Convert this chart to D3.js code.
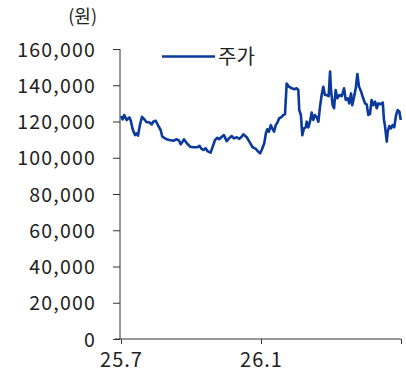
<!DOCTYPE html>
<html>
<head>
<meta charset="utf-8">
<script src="https://cdn.jsdelivr.net/npm/d3@7"></script>
<style>
  body { margin: 0; background: #fff; }
  svg text { font-family: "Noto Sans CJK KR", "Noto Sans", sans-serif; fill: #222; }
</style>
</head>
<body>
<svg id="chart"></svg>
<script>
// 월 오프셋 (0 = 25.7, 6 = 26.1, 12 = 26.7)
const months = [
  0.00, 0.07, 0.14, 0.24, 0.36, 0.42, 0.50, 0.60, 0.67, 0.73, 0.81, 0.90, 1.00, 1.10, 1.21,
  1.32, 1.38, 1.49, 1.60, 1.70, 1.77, 1.96, 2.07, 2.24, 2.39, 2.49, 2.56, 2.64, 2.70, 2.82,
  2.96, 3.10, 3.27, 3.36, 3.43, 3.53, 3.63, 3.70, 3.84, 3.93, 4.03, 4.13, 4.21, 4.32, 4.41,
  4.53, 4.63, 4.74, 4.84, 4.96, 5.07, 5.17, 5.24, 5.39, 5.50, 5.64, 5.79, 5.87, 5.96, 6.03,
  6.14, 6.21, 6.27, 6.34, 6.42, 6.48, 6.56, 6.63, 6.70, 6.78, 6.86, 6.96, 7.03, 7.10, 7.20,
  7.32, 7.43, 7.53, 7.60, 7.64, 7.71, 7.77, 7.84, 7.92, 7.96, 8.03, 8.10, 8.17, 8.24, 8.31,
  8.39, 8.46, 8.53, 8.60, 8.67, 8.74, 8.82, 8.90, 8.96, 9.00, 9.07, 9.13, 9.20, 9.27, 9.36,
  9.46, 9.56, 9.63, 9.72, 9.78, 9.86, 9.91, 9.99, 10.07, 10.13, 10.20, 10.29, 10.38, 10.46, 10.53,
  10.60, 10.67, 10.74, 10.81, 10.89, 10.96, 11.03, 11.13, 11.22, 11.27, 11.31, 11.39, 11.43, 11.50, 11.57,
  11.64, 11.71, 11.79, 11.86, 11.93, 11.99
];
// 주가 (원)
const prices = [
  123000, 121200, 123600, 120800, 122300, 120400, 115700, 112500, 113500, 112200, 118000, 122600, 121200, 119600, 119600,
  118400, 119900, 120400, 117500, 115300, 111600, 110200, 109800, 109400, 110200, 109400, 107400, 108900, 110200, 108000,
  106100, 105800, 105800, 106600, 105200, 104300, 105200, 103700, 102800, 106100, 109800, 111000, 110200, 111600, 112500,
  109200, 110700, 112000, 110700, 111300, 110400, 111600, 112900, 111300, 108900, 105800, 104700, 103500, 102400, 104300,
  108000, 113500, 115700, 114400, 118000, 116200, 114400, 118000, 119300, 121800, 122300, 123600, 124100, 141000, 139200,
  138300, 137800, 138300, 137400, 126300, 123600, 112500, 116200, 116800, 119900, 116800, 119900, 124900, 120800, 123600,
  122300, 119900, 128200, 134600, 139200, 134600, 134600, 134000, 147500, 137400, 129000, 127300, 137400, 132800, 134600,
  134000, 138300, 131900, 132800, 130000, 135500, 129000, 133700, 139200, 146200, 139200, 136500, 132800, 130000, 129500,
  123600, 124100, 131900, 129000, 131000, 127300, 130000, 129500, 130400, 120800, 118000, 108900, 114400, 117500, 116200,
  118000, 116800, 123600, 126300, 125400, 120800
];
const xTicks = [0, 6, 12];
const xTickLabels = ["25.7", "26.1", ""];
const yTicks = [0, 20000, 40000, 60000, 80000, 100000, 120000, 140000, 160000];
const seriesName = "주가";
const unitLabel = "(원)";

const width = 406, height = 377;
const margin = { top: 49, right: 5, bottom: 38, left: 121 };

const svg = d3.select("#chart").attr("width", width).attr("height", height);

const x = d3.scaleLinear().domain([0, 12]).range([margin.left, width - margin.right]);
const y = d3.scaleLinear().domain([0, 160000]).range([height - margin.bottom, margin.top]);

const fmt = d3.format(",");

// y축
const yAxis = svg.append("g")
  .attr("transform", `translate(${margin.left - 1},0)`)
  .attr("font-size", 19.5)
  .call(d3.axisLeft(y).tickValues(yTicks).tickFormat(fmt).tickSize(7).tickPadding(17));
yAxis.attr("font-size", 19.5).attr("font-family", null);
yAxis.select(".domain").attr("stroke", "#333").attr("d", `M0,${y(160000)}V${y(0)}`);
yAxis.selectAll(".tick line").attr("stroke", "#333");
yAxis.selectAll("text")
  .style("font-size", "19.5px")
  .style("letter-spacing", "1.2px")
  .attr("dy", "0.36em")
  .attr("fill", "#222");

// x축
const xAxis = svg.append("g")
  .attr("transform", `translate(0,${y(0)})`)
  .call(d3.axisBottom(x).tickValues(xTicks).tickFormat((d, i) => xTickLabels[i]).tickSize(5).tickPadding(9));
xAxis.attr("font-size", 20).attr("font-family", null);
xAxis.select(".domain").attr("stroke", "#333").attr("d", `M${margin.left - 6},0H${x(12)}`);
xAxis.selectAll(".tick line").attr("stroke", "#333");
xAxis.selectAll("text")
  .style("font-size", "20px")
  .style("letter-spacing", "1px")
  .attr("fill", "#222");

// 단위
svg.append("text")
  .attr("x", 97).attr("y", 23)
  .attr("text-anchor", "end")
  .style("font-size", "18px")
  .text(unitLabel);

// 주가 라인
const data = months.map((m, i) => ({ m: m, v: prices[i] }));
const line = d3.line().x(d => x(d.m)).y(d => y(d.v));
svg.append("path")
  .datum(data)
  .attr("fill", "none")
  .attr("stroke", "#0a3a9c")
  .attr("stroke-width", 2.6)
  .attr("stroke-linejoin", "round")
  .attr("d", line);

// 범례
const legend = svg.append("g").attr("transform", "translate(162,56.5)");
legend.append("line")
  .attr("x1", 0).attr("x2", 53).attr("y1", 0).attr("y2", 0)
  .attr("stroke", "#0a3a9c").attr("stroke-width", 2.6);
legend.append("text")
  .attr("x", 56).attr("y", 7)
  .style("font-size", "20px")
  .text(seriesName);
</script>
</body>
</html>
